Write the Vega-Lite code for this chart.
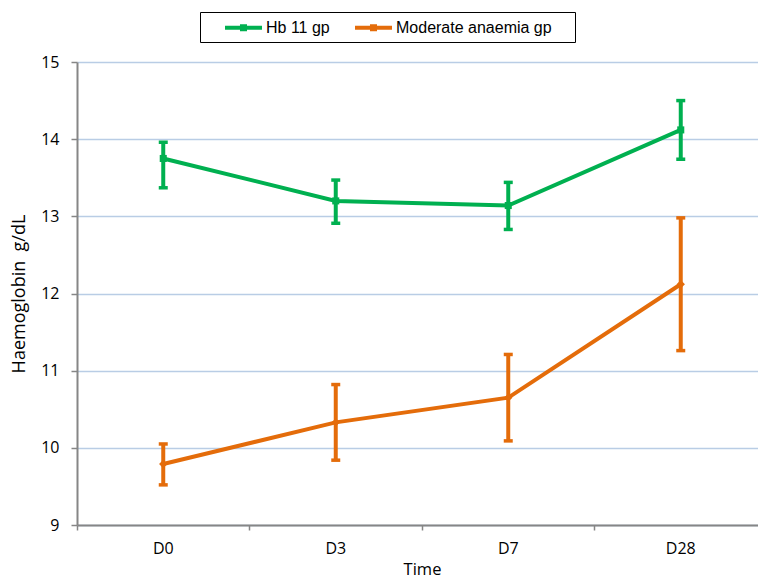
{
  "$schema": "https://vega.github.io/schema/vega-lite/v6.json",
  "autosize": {"type": "none"},
  "width": 680,
  "height": 463,
  "padding": {"left": 77, "top": 62, "right": 1, "bottom": 54},
  "background": "white",
  "config": {"view": {"stroke": null}},
  "data": {
    "values": [
      {"time": "D0", "series": "Hb 11 gp", "hb": 13.75, "lo": 13.37, "hi": 13.96},
      {"time": "D3", "series": "Hb 11 gp", "hb": 13.2, "lo": 12.91, "hi": 13.47},
      {"time": "D7", "series": "Hb 11 gp", "hb": 13.14, "lo": 12.83, "hi": 13.44},
      {"time": "D28", "series": "Hb 11 gp", "hb": 14.12, "lo": 13.74, "hi": 14.5},
      {"time": "D0", "series": "Moderate anaemia gp", "hb": 9.79, "lo": 9.52, "hi": 10.05},
      {"time": "D3", "series": "Moderate anaemia gp", "hb": 10.33, "lo": 9.84, "hi": 10.82},
      {"time": "D7", "series": "Moderate anaemia gp", "hb": 10.65, "lo": 10.09, "hi": 11.21},
      {"time": "D28", "series": "Moderate anaemia gp", "hb": 12.12, "lo": 11.26, "hi": 12.98}
    ]
  },
  "encoding": {
    "x": {
      "field": "time", "type": "nominal", "sort": ["D0", "D3", "D7", "D28"],
      "scale": {"range": [0, 690], "paddingInner": 0, "paddingOuter": 0},
      "axis": {
        "title": "Time", "labelAngle": 0, "bandPosition": 0, "grid": false,
        "domainColor": "#868686", "domainWidth": 2, "tickColor": "#868686", "tickWidth": 1.5, "tickSize": 5,
        "labelFont": "Open Sans", "labelFontSize": 16, "labelColor": "#000000", "labelPadding": 10,
        "titleFont": "Open Sans", "titleFontSize": 16.5, "titleFontWeight": "normal", "titleColor": "#000000", "titlePadding": 5
      }
    },
    "color": {
      "field": "series", "type": "nominal",
      "scale": {"domain": ["Hb 11 gp", "Moderate anaemia gp"], "range": ["#00B050", "#E46C0A"]},
      "legend": {
        "title": " ", "titleOrient": "right", "titleFontSize": 12, "titlePadding": 17,
        "orient": "none", "direction": "horizontal",
        "legendX": 123, "legendY": -50,
        "strokeColor": "#000000", "fillColor": "white",
        "padding": 6, "columnPadding": 6,
        "symbolType": "M-2,-0.22H2V0.22H-2Z M-0.38,-0.38H0.38V0.38H-0.38Z",
        "symbolSize": 342, "symbolStrokeWidth": 0, "symbolOpacity": 1, "symbolOffset": 28,
        "labelFont": "Liberation Sans", "labelFontSize": 16, "labelColor": "#000000", "labelOffset": 13
      }
    }
  },
  "layer": [
    {
      "mark": {"type": "rule", "strokeWidth": 4},
      "encoding": {
        "y": {"field": "lo", "type": "quantitative"},
        "y2": {"field": "hi"}
      }
    },
    {
      "mark": {"type": "tick", "orient": "horizontal", "size": 9, "thickness": 3.5, "opacity": 1},
      "encoding": {"y": {"field": "lo", "type": "quantitative"}}
    },
    {
      "mark": {"type": "tick", "orient": "horizontal", "size": 9, "thickness": 3.5, "opacity": 1},
      "encoding": {"y": {"field": "hi", "type": "quantitative"}}
    },
    {
      "mark": {"type": "line", "strokeWidth": 4},
      "encoding": {
        "y": {
          "field": "hb", "type": "quantitative",
          "scale": {"domain": [9, 15], "nice": false, "zero": false},
          "axis": {
            "title": "Haemoglobin\u00a0 g/dL", "values": [9, 10, 11, 12, 13, 14, 15], "format": "d",
            "grid": true, "gridColor": "#B9CDE5", "gridWidth": 1.5,
            "domainColor": "#868686", "domainWidth": 2, "tickColor": "#868686", "tickWidth": 1.5, "tickSize": 6,
            "labelFont": "Open Sans", "labelFontSize": 16, "labelColor": "#000000", "labelPadding": 12,
            "titleFont": "Open Sans", "titleFontSize": 18, "titleFontWeight": "normal", "titleColor": "#000000", "titlePadding": 12
          }
        }
      }
    },
    {
      "transform": [{"filter": "datum.series === 'Hb 11 gp'"}],
      "mark": {"type": "point", "filled": true, "opacity": 1, "size": 50, "shape": "square"},
      "encoding": {"y": {"field": "hb", "type": "quantitative"}}
    },
    {
      "transform": [{"filter": "datum.series === 'Moderate anaemia gp'"}],
      "mark": {"type": "point", "filled": true, "opacity": 1, "size": 70, "shape": "diamond"},
      "encoding": {"y": {"field": "hb", "type": "quantitative"}}
    }
  ]
}
